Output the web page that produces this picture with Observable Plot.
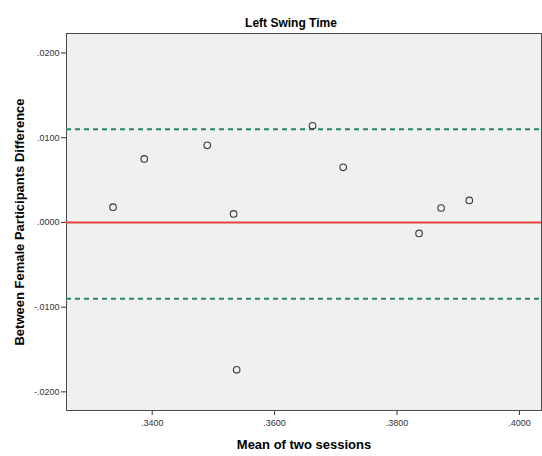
<!DOCTYPE html>
<html>
<head>
<meta charset="utf-8">
<script src="https://cdn.jsdelivr.net/npm/d3@7"></script>
<script src="https://cdn.jsdelivr.net/npm/@observablehq/plot@0.6"></script>
<style>
  html, body { margin: 0; padding: 0; background: #ffffff; }
  #chart { width: 542px; height: 456px; }
  svg { font-family: "Liberation Sans", Arial, sans-serif; }
</style>
</head>
<body>
<div id="chart"></div>
<script>
// Data
const title = "Left Swing Time";
const xLabel = "Mean of two sessions";
const yLabel = "Between Female Participants Difference";
const meanOfSessions = [0.3336, 0.3387, 0.3490, 0.3533, 0.3538, 0.3662, 0.3712, 0.3836, 0.3872, 0.3918];
const differences   = [0.0018, 0.0075, 0.0091, 0.0010, -0.0174, 0.0114, 0.0065, -0.0013, 0.0017, 0.0026];
const zeroLine = [0.0000];
const limitsOfAgreement = [0.0110, -0.0090];
const xTicks = [0.34, 0.36, 0.38, 0.40];
const yTicks = [-0.02, -0.01, 0.0, 0.01, 0.02];

const points = meanOfSessions.map((m, i) => ({mean: m, diff: differences[i]}));
const fmt = v => (v < 0 ? "-" : "") + Math.abs(v).toFixed(4).replace(/^0/, "");

const chart = Plot.plot({
  width: 542,
  height: 456,
  marginLeft: 66,
  marginRight: 1,
  marginTop: 33,
  marginBottom: 46,
  style: {fontFamily: "Liberation Sans, Arial, sans-serif", fontSize: "9px", color: "#333", background: "#ffffff"},
  x: {
    domain: [0.3260, 0.4036],
    ticks: xTicks,
    tickFormat: fmt,
    tickSize: 5,
    tickPadding: 4,
    label: xLabel,
    labelArrow: "none",
    labelAnchor: "center",
    labelOffset: 38,
    line: false
  },
  y: {
    domain: [-0.0222, 0.0223],
    ticks: yTicks,
    tickFormat: fmt,
    tickSize: 5,
    tickPadding: 2,
    label: yLabel,
    labelArrow: "none",
    labelAnchor: "center",
    labelOffset: 52,
    line: false
  },
  marks: [
    Plot.frame({fill: "#f0f0f0", stroke: "#4a4a4a", strokeWidth: 1}),
    Plot.ruleY(zeroLine, {stroke: "#e8413c", strokeWidth: 2}),
    Plot.ruleY(limitsOfAgreement, {stroke: "#22895a", strokeWidth: 2, strokeDasharray: "5,4"}),
    Plot.dot(points, {x: "mean", y: "diff", r: 3.3, stroke: "#3a3a3a", strokeWidth: 1.1, fill: "none"}),
    Plot.text([title], {frameAnchor: "top", dy: -15, dx: -13, fontSize: 12, fontWeight: "bold", fill: "#000"})
  ]
});

// style axis labels, drop any direction arrows
chart.querySelectorAll("[aria-label='x-axis label'] text, [aria-label='y-axis label'] text").forEach(t => {
  t.textContent = t.textContent.replace(/\s*[\u2190-\u2193]\s*/g, "").trim();
  t.setAttribute("font-size", "13");
  t.setAttribute("font-weight", "bold");
  t.setAttribute("fill", "#000");
});
document.getElementById("chart").appendChild(chart);
</script>
</body>
</html>
